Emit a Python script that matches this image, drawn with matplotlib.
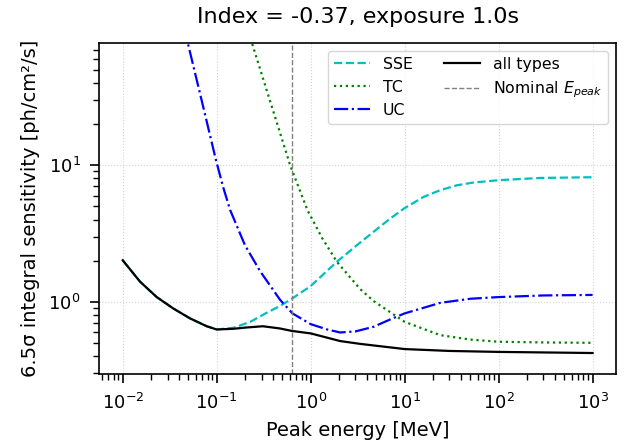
import numpy as np
import matplotlib
matplotlib.use("Agg")
from matplotlib import pyplot as plt

# values
sse_e = [0.01, 0.0153, 0.023, 0.0346, 0.0522, 0.0783, 0.1, 0.151, 0.227, 0.342, 0.473, 0.63,
         1.0, 1.9, 3.1, 4.67, 7.03, 10, 15.9, 23.9, 36, 54, 100, 278, 1000]
sse_s = [2.01, 1.40, 1.08, 0.89, 0.753, 0.66, 0.625, 0.643, 0.71, 0.83, 0.93, 1.05,
         1.30, 1.96, 2.59, 3.25, 4.07, 4.85, 5.86, 6.56, 7.13, 7.47, 7.77, 8.07, 8.17]

tc_e = [0.22, 0.237, 0.371, 0.605, 0.925, 1.326, 1.9, 3.37, 4.67, 10, 23.9, 50, 100, 314, 1000]
tc_s = [93.8, 79, 29.4, 10, 4.68, 2.92, 1.96, 1.235, 1.01, 0.711, 0.568, 0.527, 0.508, 0.502, 0.499]

uc_e = [0.045, 0.0492, 0.0665, 0.0986, 0.118, 0.139, 0.2, 0.29, 0.473, 0.64, 1.0, 1.5, 2.06,
        3, 4.67, 7, 10, 24, 50, 100, 300, 1000]
uc_s = [103, 79, 33.5, 10.8, 6.8, 4.7, 2.59, 1.67, 1.03, 0.82, 0.684, 0.625, 0.594,
        0.605, 0.654, 0.74, 0.82, 0.98, 1.05, 1.08, 1.11, 1.12]

all_e = [0.01, 0.0153, 0.023, 0.0346, 0.0522, 0.0783, 0.1, 0.15, 0.2, 0.31, 0.47, 0.63,
         1.0, 2.06, 3.37, 10, 30, 100, 1000]
all_s = [2.01, 1.40, 1.08, 0.89, 0.753, 0.66, 0.625, 0.632, 0.645, 0.66, 0.636, 0.61,
         0.585, 0.514, 0.49, 0.449, 0.435, 0.428, 0.42]

e_peak = 0.64

fig = plt.figure(figsize=(6.28, 4.46), dpi=100)
ax = fig.add_axes([0.158, 0.162, 0.823, 0.742])

ax.plot(sse_e, sse_s, "c--", lw=1.6, label="SSE")
ax.plot(tc_e, tc_s, "g:", lw=1.6, label="TC")
ax.plot(uc_e, uc_s, "b-.", lw=1.6, label="UC")
ax.plot(all_e, all_s, "k-", lw=1.6, label="all types")
ax.axvline(e_peak, color="grey", ls="--", lw=1.0, label="Nominal $E_{peak}$")

ax.set_xscale("log")
ax.set_yscale("log")
ax.set_ylim(0.296, 79)
ax.grid(True, ls=":", color="lightgrey")
for s in ax.spines.values():
    s.set_linewidth(1.2)
ax.tick_params(which="major", length=6.5, width=1.2, pad=7, labelsize=13)
ax.tick_params(which="minor", length=4, width=1.0)

ax.set_xlabel("Peak energy [MeV]", fontsize=14, labelpad=6)
ax.set_ylabel("6.5σ integral sensitivity [ph/cm²/s]", fontsize=14, labelpad=6)
ax.set_title("Index = -0.37, exposure 1.0s", fontsize=16, pad=14)
ax.legend(loc="upper right", ncol=2, fontsize=11.3, handlelength=2.3)

fig.savefig("out.png", dpi=100)
